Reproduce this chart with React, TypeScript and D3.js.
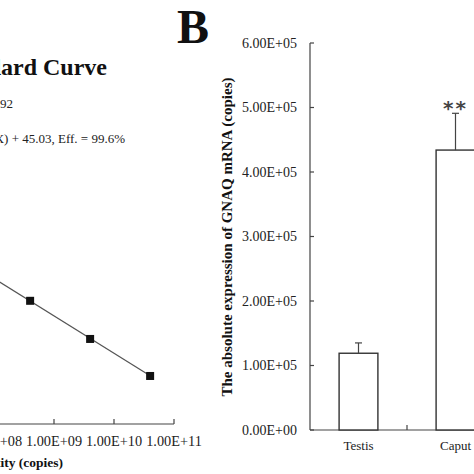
import React, { useRef, useEffect } from 'react'
import * as d3 from 'd3'

// Panel A (standard curve, mostly cropped)
const stdQuantities = [4e8, 4e9, 4e10]
const stdCt = [16.4, 13.0, 9.7]
const stdTicks = [1e8, 1e9, 1e10, 1e11]
const fitSlope = -3.33
const fitIntercept = 45.03

// Panel B (absolute expression)
const categories = ['Testis', 'Caput']
const means = [1.19e5, 4.34e5]
const errors = [0.16e5, 0.57e5]
const marks = ['', '**']
const yTicks = [0, 1e5, 2e5, 3e5, 4e5, 5e5, 6e5]

const FONT = '"Liberation Serif", "Times New Roman", serif'
const INK = '#222'

const sci = (v: number) => {
  if (v === 0) return '0.00E+00'
  const e = Math.floor(Math.log10(v))
  const m = v / Math.pow(10, e)
  return `${m.toFixed(2)}E+${String(e).padStart(2, '0')}`
}

export default function App() {
  const svgRef = useRef<SVGSVGElement>(null)

  useEffect(() => {
    if (!svgRef.current) return
    const svg = d3.select(svgRef.current)
    svg.selectAll('*').remove()
    svg.append('rect').attr('width', 474).attr('height', 474).attr('fill', '#fff')

    // ---------- Panel A ----------
    const ax = d3.scaleLog().domain([1e8, 1e11]).range([-6, 174])
    const ay = d3.scaleLinear().domain([5.42, 30]).range([424, 424 - 24.58 * 11.22])
    const a = svg.append('g')

    a.append('text').attr('x', 107).attr('y', 75).attr('text-anchor', 'end')
      .attr('font-family', FONT).attr('font-weight', 'bold').attr('font-size', 24)
      .attr('fill', '#111').text('Standard Curve')
    a.append('text').attr('x', 13).attr('y', 108).attr('text-anchor', 'end')
      .attr('font-family', FONT).attr('font-size', 13).attr('fill', INK)
      .text('R² = 0.9992')
    a.append('text').attr('x', 125).attr('y', 143).attr('text-anchor', 'end')
      .attr('font-family', FONT).attr('font-size', 13).attr('fill', INK)
      .text('y = -3.330 log(X) + 45.03, Eff. = 99.6%')

    // x axis
    a.append('line').attr('x1', -10).attr('x2', ax(1e11)).attr('y1', 424).attr('y2', 424)
      .attr('stroke', '#444').attr('stroke-width', 1.2)
    a.selectAll('.atick').data(stdTicks).join('line')
      .attr('x1', d => ax(d)).attr('x2', d => ax(d)).attr('y1', 424).attr('y2', 419)
      .attr('stroke', '#444').attr('stroke-width', 1.2)
    a.selectAll('.alab').data(stdTicks).join('text')
      .attr('x', d => ax(d)).attr('y', 446).attr('text-anchor', 'middle')
      .attr('font-family', FONT).attr('font-size', 14.3).attr('fill', INK)
      .text(d => sci(d))
    a.append('text').attr('x', 63).attr('y', 467).attr('text-anchor', 'end')
      .attr('font-family', FONT).attr('font-weight', 'bold').attr('font-size', 13.5)
      .attr('fill', '#111').text('Quantity (copies)')

    // fit line
    const fitX = [1e7, stdQuantities[stdQuantities.length - 1]]
    a.append('path')
      .attr('d', d3.line<number>()
        .x(d => ax(d))
        .y(d => ay(fitIntercept + fitSlope * Math.log10(d)))(fitX))
      .attr('stroke', '#555').attr('stroke-width', 1.2).attr('fill', 'none')
    a.selectAll('.pt').data(stdQuantities).join('rect')
      .attr('x', d => ax(d) - 4).attr('y', (_, i) => ay(stdCt[i]) - 4)
      .attr('width', 8).attr('height', 8).attr('fill', '#111')

    // ---------- Panel B ----------
    const b = svg.append('g')
    b.append('text').attr('x', 177).attr('y', 43)
      .attr('font-family', FONT).attr('font-weight', 'bold').attr('font-size', 48)
      .attr('fill', '#111').text('B')

    const x = d3.scaleBand().domain(categories).range([310, 310 + 97 * categories.length])
      .paddingInner(0.6).paddingOuter(0.3)
    const y = d3.scaleLinear().domain([0, 6e5]).range([430, 43])

    // y axis
    b.append('line').attr('x1', 310).attr('x2', 310).attr('y1', y(6e5)).attr('y2', y(0))
      .attr('stroke', '#444').attr('stroke-width', 1.2)
    b.selectAll('.ytick').data(yTicks).join('line')
      .attr('x1', 310).attr('x2', 314).attr('y1', d => y(d)).attr('y2', d => y(d))
      .attr('stroke', '#444').attr('stroke-width', 1.2)
    b.selectAll('.ylab').data(yTicks).join('text')
      .attr('x', 297).attr('y', d => y(d)).attr('dy', '0.35em').attr('text-anchor', 'end')
      .attr('font-family', FONT).attr('font-size', 14).attr('fill', INK)
      .text(d => sci(d))
    b.append('text')
      .attr('transform', 'translate(232,237) rotate(-90)')
      .attr('text-anchor', 'middle')
      .attr('font-family', FONT).attr('font-weight', 'bold').attr('font-size', 14)
      .attr('textLength', 319).attr('lengthAdjust', 'spacingAndGlyphs')
      .attr('fill', '#111').text('The absolute expression of GNAQ mRNA  (copies)')

    // x axis
    b.append('line').attr('x1', 310).attr('x2', 310 + 97 * categories.length)
      .attr('y1', y(0)).attr('y2', y(0)).attr('stroke', '#444').attr('stroke-width', 1.2)
    b.selectAll('.xtick').data(categories).join('line')
      .attr('x1', d => x(d)! + x.bandwidth() + x.step() * 0.3)
      .attr('x2', d => x(d)! + x.bandwidth() + x.step() * 0.3)
      .attr('y1', y(0)).attr('y2', y(0) - 5)
      .attr('stroke', '#444').attr('stroke-width', 1.2)
    b.selectAll('.xlab').data(categories).join('text')
      .attr('x', d => x(d)! + x.bandwidth() / 2).attr('y', 450).attr('text-anchor', 'middle')
      .attr('font-family', FONT).attr('font-size', 13).attr('fill', INK)
      .text(d => d)

    // bars
    b.selectAll('.bar').data(categories).join('rect')
      .attr('x', d => x(d)!).attr('width', x.bandwidth())
      .attr('y', (_, i) => y(means[i])).attr('height', (_, i) => y(0) - y(means[i]))
      .attr('fill', '#fff').attr('stroke', '#333').attr('stroke-width', 1.4)
    // error bars
    b.selectAll('.err').data(categories).join('line')
      .attr('x1', d => x(d)! + x.bandwidth() / 2).attr('x2', d => x(d)! + x.bandwidth() / 2)
      .attr('y1', (_, i) => y(means[i])).attr('y2', (_, i) => y(means[i] + errors[i]))
      .attr('stroke', '#444').attr('stroke-width', 1.2)
    b.selectAll('.cap').data(categories).join('line')
      .attr('x1', d => x(d)! + x.bandwidth() / 2 - 3.5).attr('x2', d => x(d)! + x.bandwidth() / 2 + 3.5)
      .attr('y1', (_, i) => y(means[i] + errors[i])).attr('y2', (_, i) => y(means[i] + errors[i]))
      .attr('stroke', '#444').attr('stroke-width', 1.2)
    b.selectAll('.sig').data(categories).join('text')
      .attr('x', d => x(d)! + x.bandwidth() / 2).attr('y', (_, i) => y(means[i] + errors[i]) + 4)
      .attr('dy', '-0.1em').attr('text-anchor', 'middle')
      .attr('font-family', '"DejaVu Sans", sans-serif').attr('font-weight', 'bold')
      .attr('font-size', 20).attr('letter-spacing', 2)
      .attr('fill', '#444').text((_, i) => marks[i])
  }, [])

  return (
    <svg ref={svgRef} width={474} height={474}
      style={{ position: 'absolute', left: 0, top: 0, display: 'block' }} />
  )
}
